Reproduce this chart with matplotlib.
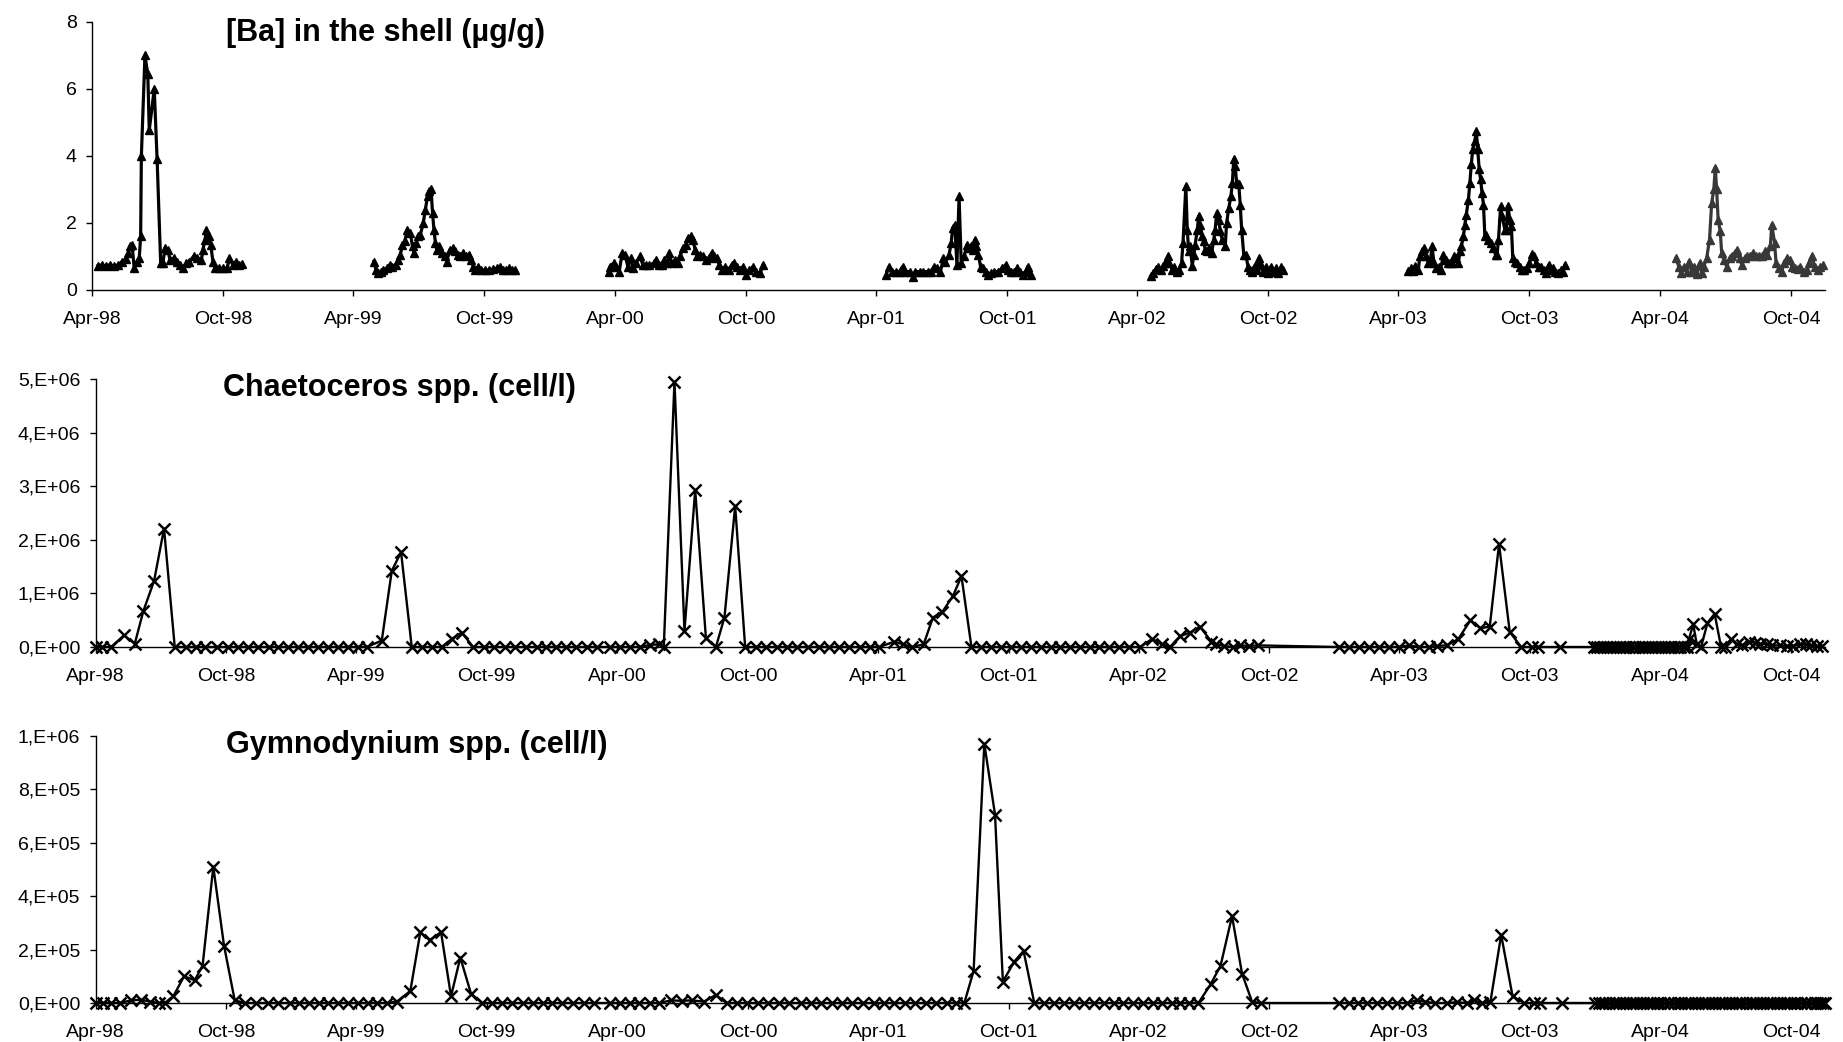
import numpy as np
import matplotlib
matplotlib.use("Agg")
import matplotlib.pyplot as plt

plt.rcParams['font.family'] = ['Liberation Sans', 'DejaVu Sans']

# ---------------- x axis ----------------
tick_dates = ['1998-04-01', '1998-10-01', '1999-04-01', '1999-10-01', '2000-04-01', '2000-10-01',
              '2001-04-01', '2001-10-01', '2002-04-01', '2002-10-01', '2003-04-01', '2003-10-01',
              '2004-04-01', '2004-10-01']
tick_labels = ['Apr-98', 'Oct-98', 'Apr-99', 'Oct-99', 'Apr-00', 'Oct-00', 'Apr-01', 'Oct-01',
               'Apr-02', 'Oct-02', 'Apr-03', 'Oct-03', 'Apr-04', 'Oct-04']
x_start = '1998-04-01'
x_end = '2004-11-18'

# ---------------- [Ba] in the shell (ug/g); days after 1 April of each year ----------------
ba1998_day = [8, 14, 19, 25, 31, 37, 42, 47, 51, 53, 56, 59, 63, 66, 68, 69, 74, 78, 80, 87,
              91, 96, 99, 102, 106, 109, 114, 119, 123, 127, 132, 136, 142, 147, 153, 155, 158, 160, 163, 166,
              169, 172, 178, 183, 189, 192, 197, 201, 205, 209]
ba1998_val = [0.72, 0.75, 0.72, 0.75, 0.72, 0.75, 0.85, 0.92, 1.1, 1.3, 1.35, 0.65, 0.85, 0.95, 1.6, 4.0, 7.0, 6.45, 4.77, 6.0,
              3.9, 0.8, 0.8, 1.25, 1.2, 0.9, 0.95, 0.85, 0.75, 0.65, 0.8, 0.85, 1.0, 0.95, 0.9, 1.2, 1.5, 1.8, 1.6, 1.35,
              0.85, 0.65, 0.65, 0.65, 0.65, 0.95, 0.75, 0.85, 0.75, 0.78]

ba1999_day = [29, 32, 35, 39, 42, 47, 51, 55, 60, 63, 66, 69, 72, 76, 80, 83, 85, 88, 91, 94,
              98, 101, 104, 106, 109, 111, 113, 115, 117, 120, 124, 128, 131, 135, 139, 143, 147, 150, 154, 158,
              162, 165, 168, 171, 175, 179, 185, 190, 196, 201, 206, 210, 214, 218, 222, 226]
ba1999_val = [0.85, 0.6, 0.5, 0.55, 0.6, 0.65, 0.75, 0.7, 0.75, 0.9, 1.05, 1.35, 1.45, 1.8, 1.7, 1.3, 1.1, 1.4, 1.6, 1.65,
              2.0, 2.4, 2.8, 2.95, 3.0, 2.3, 1.8, 1.4, 1.2, 1.3, 1.1, 1.0, 0.85, 1.2, 1.25, 1.15, 1.05, 1.0, 1.1, 1.0,
              1.05, 0.9, 0.7, 0.6, 0.7, 0.6, 0.6, 0.6, 0.62, 0.65, 0.7, 0.6, 0.6, 0.65, 0.6, 0.6]

ba2000_day = [-9, -7, -2, 2, 6, 10, 14, 18, 22, 25, 29, 35, 39, 43, 48, 54, 58, 62, 66, 69,
              73, 76, 79, 84, 88, 91, 95, 99, 102, 106, 109, 112, 115, 119, 123, 127, 131, 135, 138, 142,
              146, 150, 154, 159, 163, 167, 171, 175, 179, 183, 188, 193, 197, 203, 207]
ba2000_val = [0.55, 0.7, 0.8, 0.7, 0.55, 1.1, 1.05, 0.7, 0.95, 0.65, 0.8, 1.0, 0.75, 0.75, 0.75, 0.8, 0.9, 0.75, 0.75, 0.9,
              0.8, 1.1, 0.8, 0.9, 0.8, 1.0, 1.25, 1.35, 1.55, 1.6, 1.5, 1.2, 1.0, 1.05, 1.0, 0.9, 0.95, 1.1, 1.0, 0.95,
              0.75, 0.6, 0.7, 0.6, 0.75, 0.8, 0.7, 0.6, 0.7, 0.45, 0.6, 0.7, 0.55, 0.5, 0.75]

ba2001_day = [14, 18, 22, 28, 33, 37, 41, 47, 51, 55, 61, 66, 72, 77, 81, 85, 90, 94, 97, 102,
              105, 107, 110, 113, 116, 119, 123, 127, 129, 132, 135, 138, 140, 143, 146, 149, 153, 157, 161, 165,
              171, 176, 181, 184, 189, 193, 197, 201, 205, 209, 212, 216]
ba2001_val = [0.45, 0.7, 0.55, 0.55, 0.55, 0.7, 0.55, 0.55, 0.4, 0.55, 0.55, 0.55, 0.55, 0.55, 0.7, 0.65, 0.55, 0.95, 0.85, 1.05,
              1.4, 1.85, 1.95, 0.75, 2.8, 0.8, 1.0, 1.35, 1.25, 1.3, 1.2, 1.5, 1.3, 1.05, 0.7, 0.65, 0.55, 0.45, 0.5, 0.55,
              0.55, 0.65, 0.75, 0.6, 0.55, 0.55, 0.65, 0.55, 0.45, 0.55, 0.7, 0.45]

ba2002_day = [19, 22, 26, 29, 33, 36, 39, 43, 45, 49, 52, 56, 59, 62, 64, 68, 70, 72, 74, 77,
              79, 81, 84, 86, 88, 91, 93, 95, 98, 101, 104, 107, 109, 111, 114, 116, 119, 123, 125, 128,
              131, 133, 135, 137, 139, 142, 144, 146, 149, 152, 155, 158, 160, 164, 167, 170, 173, 176, 180, 183,
              187, 190, 194, 197, 201, 204]
ba2002_val = [0.42, 0.5, 0.62, 0.7, 0.6, 0.72, 0.8, 1.0, 0.8, 0.6, 0.7, 0.55, 0.6, 0.8, 1.4, 3.1, 1.8, 1.15, 1.3, 0.72,
              1.05, 1.35, 1.8, 2.2, 1.95, 1.6, 1.45, 1.2, 1.15, 1.25, 1.1, 1.5, 1.8, 2.3, 2.1, 1.75, 1.5, 1.3, 2.0, 2.45,
              2.8, 3.2, 3.9, 3.7, 3.2, 3.15, 2.55, 1.8, 1.05, 1.05, 0.68, 0.6, 0.55, 0.72, 0.6, 0.95, 0.75, 0.55, 0.7, 0.52,
              0.7, 0.55, 0.65, 0.52, 0.68, 0.6]

ba2003_day = [14, 18, 21, 24, 28, 30, 33, 36, 39, 42, 45, 47, 50, 53, 57, 59, 63, 66, 69, 72,
              75, 78, 81, 84, 86, 88, 91, 93, 95, 98, 100, 102, 104, 107, 109, 111, 113, 115, 117, 119,
              121, 123, 126, 130, 133, 136, 138, 140, 143, 145, 149, 151, 153, 156, 158, 160, 163, 166, 170, 173,
              176, 180, 183, 187, 189, 193, 196, 200, 203, 207, 210, 213, 216, 219, 223, 227, 230, 233]
ba2003_val = [0.58, 0.65, 0.58, 0.72, 0.6, 1.0, 1.15, 1.25, 1.0, 0.8, 0.9, 1.3, 0.8, 0.65, 0.7, 0.6, 1.05, 0.9, 0.8, 0.82,
              0.8, 1.0, 0.95, 0.8, 1.15, 1.3, 1.6, 1.95, 2.25, 2.7, 3.2, 3.75, 4.2, 4.45, 4.75, 4.2, 3.6, 3.3, 2.9, 2.55,
              1.6, 1.65, 1.5, 1.4, 1.25, 1.05, 1.05, 1.5, 2.5, 2.2, 1.8, 1.8, 2.5, 2.1, 1.9, 0.95, 0.85, 0.8, 0.7, 0.6,
              0.6, 0.65, 0.8, 1.08, 1.0, 0.8, 0.7, 0.7, 0.6, 0.52, 0.75, 0.6, 0.65, 0.55, 0.52, 0.6, 0.55, 0.75]

ba2004_day = [22, 26, 29, 33, 37, 40, 44, 48, 51, 55, 58, 61, 65, 69, 72, 75, 77, 79, 81, 84,
              86, 89, 93, 97, 101, 104, 108, 111, 114, 118, 122, 126, 130, 134, 138, 142, 147, 150, 154, 156,
              160, 162, 166, 170, 173, 177, 181, 184, 188, 192, 196, 201, 205, 208, 212, 216, 220, 224, 228]
ba2004_val = [0.95, 0.7, 0.5, 0.7, 0.55, 0.85, 0.55, 0.7, 0.48, 0.8, 0.5, 0.7, 0.95, 1.5, 2.6, 3.0, 3.65, 3.0, 2.1, 1.75,
              1.1, 0.9, 0.7, 0.95, 1.0, 1.1, 1.2, 0.95, 0.75, 0.95, 1.0, 1.0, 1.1, 1.0, 1.0, 1.0, 1.15, 1.05, 1.3, 1.95,
              1.4, 0.8, 0.65, 0.55, 0.8, 0.95, 0.9, 0.7, 0.65, 0.62, 0.7, 0.55, 0.6, 0.8, 1.0, 0.7, 0.6, 0.7, 0.75]

ba_years = [1998, 1999, 2000, 2001, 2002, 2003, 2004]
ba_days = [ba1998_day, ba1999_day, ba2000_day, ba2001_day, ba2002_day, ba2003_day, ba2004_day]
ba_vals = [ba1998_val, ba1999_val, ba2000_val, ba2001_val, ba2002_val, ba2003_val, ba2004_val]
ba_colors = ['black', 'black', 'black', 'black', 'black', 'black', '#383838']

# ---------------- Chaetoceros spp. (cell/l); days since 1998-04-01 ----------------
chaet_day = [0, 9, 22, 40, 55, 67, 82, 96,
             111, 127, 141, 154, 170, 185, 199, 213, 228, 243, 256, 270, 284, 298, 312, 325, 339, 353, 367, 380,
             401, 415, 428, 443, 458, 471, 485, 499, 513,
             529, 544, 558, 573, 587, 603, 618, 631, 645, 659, 673, 688, 702, 720, 734, 749, 763,
             777, 790, 796, 811, 825, 840, 855, 869, 881, 896,
             910, 925, 939, 954, 969, 983, 998, 1013, 1027, 1041, 1056, 1071, 1085, 1098,
             1119, 1131, 1144, 1160, 1173, 1186, 1201, 1213,
             1227, 1241, 1255, 1269, 1283, 1296, 1310, 1324, 1338, 1351, 1365, 1379, 1393, 1406, 1420, 1434, 1448, 1463,
             1480, 1494, 1505, 1519, 1533, 1547, 1563, 1570, 1581, 1593, 1603, 1616, 1628,
             1742, 1756, 1770, 1784, 1798, 1812, 1826, 1840, 1854, 1868, 1879, 1893, 1909, 1926, 1940, 1953, 1966,
             1981, 1997, 2012, 2020, 2051,
             2099, 2103, 2108, 2112, 2117, 2121, 2126, 2130, 2135, 2139, 2144, 2148, 2153, 2157, 2162, 2166, 2171,
             2175, 2180, 2184, 2189, 2193, 2198, 2202, 2207, 2211, 2216, 2220, 2225, 2229,
             2232, 2238, 2243, 2249, 2258, 2268, 2277, 2282, 2291, 2299, 2307, 2316, 2324, 2332, 2341, 2349, 2360,
             2369, 2378, 2387, 2396, 2403, 2411, 2419]
chaet_val = [0, 0, 0, 0.22e6, 0.06e6, 0.67e6, 1.23e6, 2.21e6,
             0, 0, 0, 0, 0, 0, 0, 0, 0, 0, 0, 0, 0, 0, 0, 0, 0, 0, 0, 0,
             0.12e6, 1.42e6, 1.77e6, 0, 0, 0, 0, 0.15e6, 0.27e6,
             0, 0, 0, 0, 0, 0, 0, 0, 0, 0, 0, 0, 0, 0, 0, 0, 0,
             0.04e6, 0.05e6, 0, 4.95e6, 0.3e6, 2.93e6, 0.17e6, 0, 0.55e6, 2.63e6,
             0, 0, 0, 0, 0, 0, 0, 0, 0, 0, 0, 0, 0, 0,
             0.1e6, 0.05e6, 0, 0.05e6, 0.55e6, 0.65e6, 0.95e6, 1.32e6,
             0, 0, 0, 0, 0, 0, 0, 0, 0, 0, 0, 0, 0, 0, 0, 0, 0, 0,
             0.15e6, 0.05e6, 0, 0.2e6, 0.27e6, 0.38e6, 0.1e6, 0.05e6, 0.02e6, 0, 0.03e6, 0.02e6, 0.03e6,
             0, 0, 0, 0, 0, 0, 0, 0.03e6, 0, 0, 0.02e6, 0.03e6, 0.15e6, 0.5e6, 0.35e6, 0.38e6, 1.92e6,
             0.28e6, 0, 0, 0, 0,
             0, 0, 0, 0, 0, 0, 0, 0, 0, 0, 0, 0, 0, 0, 0, 0, 0,
             0, 0, 0, 0, 0, 0, 0, 0, 0, 0, 0, 0, 0,
             0.15e6, 0.42e6, 0.05e6, 0, 0.45e6, 0.62e6, 0, 0, 0.15e6, 0.05e6, 0.03e6, 0.1e6, 0.08e6, 0.06e6, 0.05e6, 0.03e6, 0.03e6,
             0.02e6, 0.02e6, 0.05e6, 0.05e6, 0.03e6, 0.02e6, 0.02e6]

# ---------------- Gymnodynium spp. (cell/l); days since 1998-04-01 ----------------
gymno_day = [1, 10, 22, 34, 50, 64, 77, 89, 97, 109, 124, 139, 150, 165, 180, 195,
             209, 225, 242, 256, 272, 285, 299, 313, 326, 340, 354, 367, 381, 394, 408, 422,
             441, 455, 468, 484, 498, 511, 526,
             542, 556, 569, 583, 599, 613, 627, 640, 654, 669, 684, 698, 720, 734, 748, 762, 777, 790,
             806, 821, 835, 852, 869,
             884, 898, 913, 928, 942, 958, 972, 988, 1002, 1016, 1031, 1045, 1060, 1075, 1090, 1105, 1119, 1134,
             1148, 1164, 1178, 1193, 1206, 1217,
             1230, 1245, 1260, 1271, 1287, 1300,
             1315, 1329, 1343, 1357, 1371, 1384, 1398, 1412, 1426, 1439, 1453, 1467, 1481, 1494, 1508, 1519, 1532, 1545,
             1562, 1576, 1592, 1606, 1620, 1632,
             1742, 1756, 1768, 1781, 1795, 1809, 1823, 1837, 1851, 1862, 1876, 1893, 1907, 1921, 1931, 1942, 1954,
             1969, 1985, 2001, 2015, 2023, 2054,
             2101, 2106, 2110, 2115, 2120, 2125, 2130, 2134, 2139, 2144, 2149, 2154, 2158, 2163, 2168, 2173, 2178,
             2182, 2187, 2192, 2197, 2202, 2206, 2211, 2216, 2221, 2226, 2230, 2235, 2240, 2245, 2250, 2254, 2259,
             2264, 2269, 2274, 2278, 2283, 2288, 2293, 2298, 2302, 2307, 2312, 2317, 2322, 2326, 2331, 2336, 2341,
             2346, 2350, 2355, 2360, 2365, 2370, 2374, 2379, 2384, 2389, 2394, 2398, 2403, 2408, 2412, 2416, 2420,
             2422]
gymno_val = [0, 0, 0, 0, 0.1e5, 0.12e5, 0.05e5, 0, 0, 0.25e5, 1.0e5, 0.85e5, 1.4e5, 5.1e5, 2.15e5, 0.1e5,
             0, 0, 0, 0, 0, 0, 0, 0, 0, 0, 0, 0, 0, 0, 0, 0.05e5,
             0.45e5, 2.65e5, 2.35e5, 2.65e5, 0.25e5, 1.7e5, 0.35e5,
             0, 0, 0, 0, 0, 0, 0, 0, 0, 0, 0, 0, 0, 0, 0, 0, 0, 0,
             0.1e5, 0.08e5, 0.1e5, 0.05e5, 0.3e5,
             0, 0, 0, 0, 0, 0, 0, 0, 0, 0, 0, 0, 0, 0, 0, 0, 0, 0,
             0, 0, 0, 0, 0, 0,
             1.2e5, 9.7e5, 7.05e5, 0.8e5, 1.55e5, 1.95e5,
             0, 0, 0, 0, 0, 0, 0, 0, 0, 0, 0, 0, 0, 0, 0, 0, 0, 0,
             0.7e5, 1.4e5, 3.25e5, 1.1e5, 0.05e5, 0,
             0, 0, 0, 0, 0, 0, 0, 0, 0.1e5, 0.05e5, 0, 0, 0.03e5, 0, 0.1e5, 0, 0.05e5,
             2.55e5, 0.25e5, 0, 0, 0, 0,
             0, 0, 0, 0, 0, 0, 0, 0, 0, 0, 0, 0, 0, 0, 0, 0, 0,
             0, 0, 0, 0, 0, 0, 0, 0, 0, 0, 0, 0, 0, 0, 0, 0, 0,
             0, 0, 0, 0, 0, 0, 0, 0, 0, 0, 0, 0, 0, 0, 0, 0, 0,
             0, 0, 0, 0, 0, 0, 0, 0, 0, 0, 0, 0, 0, 0, 0, 0, 0,
             0]

ba_yticks = [0, 2, 4, 6, 8]
ba_ylabels = ['0', '2', '4', '6', '8']
chaet_yticks = [0, 1e6, 2e6, 3e6, 4e6, 5e6]
chaet_ylabels = ['0,E+00', '1,E+06', '2,E+06', '3,E+06', '4,E+06', '5,E+06']
gymno_yticks = [0, 2e5, 4e5, 6e5, 8e5, 1e6]
gymno_ylabels = ['0,E+00', '2,E+05', '4,E+05', '6,E+05', '8,E+05', '1,E+06']

titles = ['[Ba] in the shell (µg/g)', 'Chaetoceros spp. (cell/l)', 'Gymnodynium spp. (cell/l)']

assert len(chaet_day) == len(chaet_val), (len(chaet_day), len(chaet_val))
assert len(gymno_day) == len(gymno_val), (len(gymno_day), len(gymno_val))
for d_, v_ in zip(ba_days, ba_vals):
    assert len(d_) == len(v_)


def to_dates(base, days):
    return np.datetime64(base) + np.array(days).astype('timedelta64[D]')


fig = plt.figure(figsize=(18.43, 10.42), dpi=100)
ax_ba = fig.add_axes([0.04992, 0.72169, 0.94054, 0.25720])
ax_ch = fig.add_axes([0.05182, 0.37908, 0.93857, 0.25720])
ax_gy = fig.add_axes([0.05182, 0.03743, 0.93857, 0.25653])

for yr, d_, v_, c_ in zip(ba_years, ba_days, ba_vals, ba_colors):
    ax_ba.plot(to_dates(f'{yr}-04-01', d_), v_, '-^', color=c_, lw=2.3, ms=6.3,
               mfc=c_, mec=c_, clip_on=False, zorder=3)

ax_ch.plot(to_dates('1998-04-01', chaet_day), chaet_val, '-x', color='black', lw=1.7, ms=9,
           mew=1.8, clip_on=False, zorder=3)
ax_gy.plot(to_dates('1998-04-01', gymno_day), gymno_val, '-x', color='black', lw=1.7, ms=9,
           mew=1.8, clip_on=False, zorder=3)

xt = np.array(tick_dates, dtype='datetime64[D]')
for ax, yt, yl in [(ax_ba, ba_yticks, ba_ylabels), (ax_ch, chaet_yticks, chaet_ylabels),
                   (ax_gy, gymno_yticks, gymno_ylabels)]:
    ax.spines['top'].set_visible(False)
    ax.spines['right'].set_visible(False)
    for s in ('left', 'bottom'):
        ax.spines[s].set_linewidth(1.0)
        ax.spines[s].set_color('black')
    ax.set_xlim(np.datetime64(x_start), np.datetime64(x_end))
    ax.set_xticks(xt)
    ax.set_xticklabels(tick_labels)
    ax.set_ylim(yt[0], yt[-1])
    ax.set_yticks(yt)
    ax.set_yticklabels(yl)
    ax.tick_params(axis='x', direction='out', length=4, width=1, labelsize=14, pad=11)
    ax.tick_params(axis='y', direction='out', length=4, width=1, labelsize=14, pad=7)
    ax.set_facecolor('none')

fig.text(0.1226, 0.9683, titles[0], fontsize=22, fontweight='bold', ha='left', va='center')
fig.text(0.1210, 0.6276, titles[1], fontsize=22, fontweight='bold', ha='left', va='center')
fig.text(0.1226, 0.2850, titles[2], fontsize=22, fontweight='bold', ha='left', va='center')

fig.savefig('out.png', dpi=100)
